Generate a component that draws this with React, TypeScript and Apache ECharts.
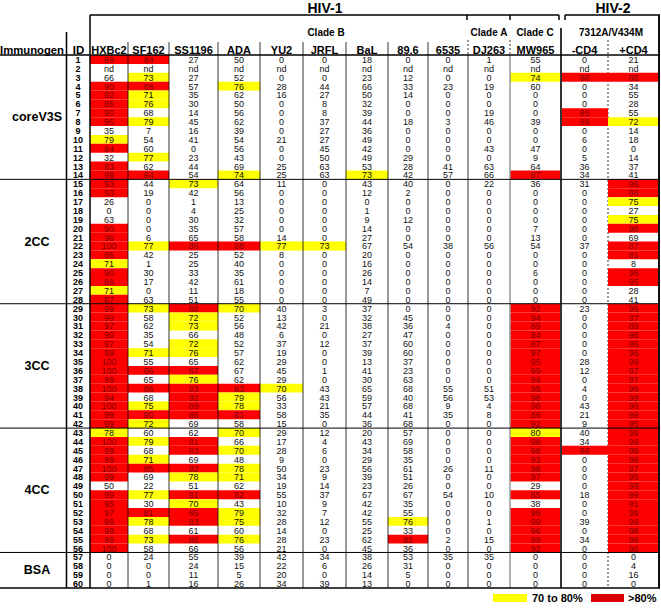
import React, { useEffect, useRef } from "react";
import * as echarts from "echarts";

const columns = ["HXBc2", "SF162", "SS1196", "ADA", "YU2", "JRFL", "BaL", "89.6", "6535", "DJ263", "MW965", "-CD4", "+CD4"];
const groupNames = ["coreV3S", "2CC", "3CC", "4CC", "BSA"];

type V = number | string;
const ND: V[] = ["nd", "nd", "nd", "nd", "nd", "nd", "nd", "nd", "nd", "nd", "nd", "nd", "nd"];

const coreV3S: V[][] = [
  [89, 84, 27, 50, 0, 0, 18, 0, 0, 1, 55, 0, 21],
  ND,
  [66, 73, 27, 52, 0, 0, 23, 12, 0, 0, 74, 98, 88],
  [90, 88, 57, 76, 28, 44, 66, 33, 23, 19, 60, 0, 34],
  [82, 71, 35, 62, 16, 27, 50, 14, 0, 0, 0, 0, 55],
  [85, 76, 30, 50, 0, 8, 32, 0, 0, 0, 0, 0, 28],
  [90, 68, 14, 56, 0, 8, 39, 0, 0, 19, 0, 85, 55],
  [95, 79, 45, 62, 0, 37, 44, 18, 3, 46, 39, 89, 72],
  [35, 7, 16, 39, 0, 27, 36, 0, 0, 0, 0, 0, 14],
  [79, 54, 41, 54, 21, 27, 49, 0, 0, 0, 0, 6, 18],
  [84, 60, 0, 56, 0, 45, 42, 0, 0, 43, 47, 0, 0],
  [32, 77, 23, 43, 0, 50, 49, 29, 0, 0, 9, 5, 14],
  [83, 62, 44, 69, 25, 63, 53, 28, 41, 63, 64, 36, 37],
  [98, 94, 54, 74, 25, 63, 73, 42, 57, 66, 87, 34, 41],
];
const cc2: V[][] = [
  [93, 44, 73, 64, 11, 0, 43, 40, 0, 22, 36, 31, 96],
  [93, 19, 42, 56, 0, 0, 12, 2, 0, 0, 0, 0, 98],
  [26, 0, 1, 13, 0, 0, 0, 0, 0, 0, 0, 0, 75],
  [0, 0, 4, 25, 0, 0, 1, 0, 0, 0, 0, 0, 27],
  [63, 0, 30, 32, 0, 0, 9, 12, 0, 0, 0, 0, 75],
  [90, 0, 35, 57, 0, 0, 14, 0, 0, 0, 7, 0, 98],
  [96, 6, 65, 58, 14, 0, 27, 0, 0, 0, 13, 0, 69],
  [100, 77, 86, 88, 77, 73, 67, 54, 38, 56, 54, 37, 87],
  [86, 42, 25, 52, 8, 0, 20, 0, 0, 0, 0, 0, 81],
  [71, 1, 25, 40, 0, 0, 16, 0, 0, 0, 0, 0, 8],
  [90, 30, 33, 35, 0, 0, 26, 0, 0, 0, 6, 0, 98],
  [89, 17, 42, 61, 0, 0, 14, 0, 0, 0, 0, 0, 95],
  [71, 0, 11, 18, 0, 0, 7, 0, 0, 0, 0, 0, 28],
  [87, 63, 51, 55, 0, 0, 49, 0, 0, 0, 0, 0, 41],
];
const cc3: V[][] = [
  [99, 73, 88, 70, 40, 3, 37, 0, 0, 0, 92, 23, 99],
  [99, 58, 72, 52, 13, 0, 32, 45, 0, 0, 94, 0, 97],
  [97, 62, 73, 56, 42, 21, 38, 36, 4, 0, 89, 0, 89],
  [90, 35, 66, 48, 6, 0, 27, 47, 0, 0, 84, 0, 98],
  [97, 54, 72, 52, 37, 12, 37, 60, 0, 0, 87, 0, 96],
  [99, 71, 76, 57, 19, 0, 39, 60, 0, 0, 97, 0, 96],
  [100, 55, 65, 62, 29, 0, 13, 37, 0, 0, 95, 28, 99],
  [100, 86, 87, 67, 45, 1, 41, 23, 0, 0, 99, 12, 97],
  [99, 65, 76, 62, 29, 0, 30, 63, 0, 0, 94, 0, 97],
  [100, 86, 93, 83, 70, 43, 65, 68, 55, 51, 95, 4, 99],
  [94, 68, 92, 79, 56, 43, 59, 40, 56, 53, 98, 0, 99],
  [100, 75, 89, 78, 33, 21, 57, 68, 9, 4, 98, 43, 99],
  [99, 90, 86, 81, 58, 35, 44, 41, 35, 8, 86, 21, 99],
  [99, 72, 69, 58, 15, 0, 36, 68, 0, 0, 92, 9, 95],
];
const cc4: V[][] = [
  [78, 60, 62, 70, 29, 12, 20, 57, 0, 0, 80, 40, 99],
  [100, 79, 81, 66, 17, 4, 43, 69, 0, 0, 98, 34, 99],
  [99, 68, 83, 70, 28, 6, 34, 58, 0, 0, 98, 86, 99],
  [99, 71, 69, 48, 9, 0, 29, 35, 0, 0, 93, 0, 99],
  [100, 85, 92, 78, 50, 23, 56, 61, 26, 11, 98, 0, 97],
  [99, 69, 78, 71, 34, 9, 39, 51, 0, 0, 97, 0, 99],
  [50, 22, 51, 62, 19, 14, 23, 26, 0, 0, 29, 0, 99],
  [99, 77, 91, 82, 55, 37, 67, 67, 54, 10, 85, 18, 99],
  [95, 30, 70, 43, 10, 9, 42, 35, 0, 0, 38, 0, 91],
  [97, 81, 85, 79, 32, 7, 42, 55, 0, 0, 96, 0, 99],
  [99, 78, 83, 75, 28, 12, 55, 76, 0, 1, 99, 39, 99],
  [98, 68, 61, 60, 14, 0, 25, 33, 0, 0, 96, 0, 98],
  [99, 73, 85, 76, 28, 23, 62, 85, 2, 15, 99, 34, 99],
  [100, 58, 66, 56, 21, 0, 45, 36, 0, 0, 92, 0, 96],
];
const bsa: V[][] = [
  [0, 24, 55, 39, 42, 34, 38, 53, 35, 35, 0, 0, 0],
  [0, 0, 24, 15, 22, 6, 26, 31, 0, 0, 0, 0, 4],
  [0, 0, 11, 5, 20, 0, 14, 5, 0, 0, 0, 0, 16],
  [0, 1, 16, 26, 34, 39, 13, 0, 0, 0, 0, 0, 0],
];
const groupRows = [coreV3S, cc2, cc3, cc4, bsa];
const legendLabels = ["70 to 80%", ">80%"];

// layout (pixels)
const EDGES = [90, 128, 169, 218, 260, 303, 346, 388, 428, 468, 510, 561, 608, 659];
const TOP = 55;
const BOTTOM = 588;
const RED = "#ff0000";
const YELLOW = "#ffff00";
const FONT = '"Liberation Sans", Arial, sans-serif';
const NARROW = '"Liberation Sans Narrow", "Liberation Sans", Arial, sans-serif';

export default function App() {
  const ref = useRef<HTMLDivElement>(null);
  useEffect(() => {
    document.body.style.margin = "0";
    const chart = echarts.init(ref.current!, null, { renderer: "svg" });

    const allRows: V[][] = [];
    const groupStart: number[] = [];
    groupRows.forEach((g) => {
      groupStart.push(allRows.length);
      g.forEach((r) => allRows.push(r));
    });
    const nRows = allRows.length;
    const cells: { c: number; r: number; v: V }[] = [];
    allRows.forEach((row, r) => row.forEach((v, c) => cells.push({ c, r, v })));
    const rowH = (BOTTOM - TOP) / nRows;

    const colorOf = (v: V) => (typeof v === "number" ? (v > 80 ? RED : v >= 70 ? YELLOW : null) : null);

    const g: any[] = [];
    const line = (x1: number, y1: number, x2: number, y2: number, w = 1, color = "#000", dash?: number[], z = 100) =>
      g.push({ type: "line", z, shape: { x1, y1, x2, y2 }, style: { stroke: color, lineWidth: w, lineDash: dash } });
    const text = (t: string, x: number, y: number, font: string, align = "center") =>
      g.push({ type: "text", z: 100, x, y, style: { text: t, font, align, verticalAlign: "middle", fill: "#000" } });

    // header
    text("HIV-1", 325, 7.5, `bold 14px ${FONT}`);
    text("HIV-2", 613, 7.5, `bold 14px ${FONT}`);
    line(90, 15, 559, 15, 1.5);
    line(559, 15, 559, 20, 1.5);
    line(467, 15, 467, 20, 1.5);
    line(510, 15, 510, 20, 1.5);
    line(565, 15, 660, 15, 1.5);
    line(565, 15, 565, 20, 1.5);
    text("Clade B", 326, 32, `bold 10px ${FONT}`);
    text("Clade A", 489, 32, `bold 10px ${FONT}`);
    text("Clade C", 535, 32, `bold 10px ${FONT}`);
    text("7312A/V434M", 611, 32, `bold 10px ${FONT}`);
    text("Immunogen", 0, 50, `bold 11.3px ${FONT}`, "left");
    text("ID", 78.5, 50, `bold 11.5px ${FONT}`);
    columns.forEach((c, i) => text(c, (EDGES[i] + EDGES[i + 1]) / 2, 50, `bold 11px ${FONT}`));

    // vertical lines
    line(66.5, 32, 66.5, BOTTOM, 1.5);
    line(90, 15, 90, BOTTOM, 1.5);
    for (let i = 1; i <= 8; i++) line(EDGES[i], 42, EDGES[i], BOTTOM, 0.8);
    line(EDGES[9], 40, EDGES[9], TOP, 0.8, "#000", [2, 2]);
    line(EDGES[9], TOP, EDGES[9], BOTTOM, 0.8);
    line(EDGES[10], 40, EDGES[10], TOP, 0.8, "#000", [2, 2]);
    line(EDGES[10], TOP, EDGES[10], BOTTOM, 1.5, "#999");
    line(EDGES[11], 28, EDGES[11], BOTTOM, 2, "#333");
    line(EDGES[12], 40, EDGES[12], BOTTOM, 0.8, "#000", [2, 2], 0);
    line(EDGES[13], 15, EDGES[13], BOTTOM, 2, "#111");

    // horizontal lines
    line(0, TOP, 660, TOP, 1.5);
    line(0, BOTTOM, 660, BOTTOM, 1.5);
    groupStart.slice(1).forEach((s) => line(0, TOP + s * rowH, 660, TOP + s * rowH, 1));

    // legend
    g.push({ type: "rect", z: 100, shape: { x: 493, y: 594, width: 34, height: 8 }, style: { fill: YELLOW } });
    text(legendLabels[0], 532, 598, `bold 11px ${FONT}`, "left");
    g.push({ type: "rect", z: 100, shape: { x: 591, y: 594, width: 33, height: 8 }, style: { fill: "#d80000" } });
    text(legendLabels[1], 628, 598, `bold 11px ${FONT}`, "left");

    const option: any = {
      animation: false,
      grid: { left: 0, width: 659, top: TOP, height: BOTTOM - TOP },
      xAxis: { type: "value", min: 0, max: 659, show: false },
      yAxis: { type: "value", min: 0, max: nRows, inverse: true, show: false },
      graphic: { elements: g },
      series: [
        {
          type: "custom",
          z: 2,
          data: cells.map((d) => [d.c, d.r]),
          renderItem: (params: any, api: any) => {
            const d = cells[params.dataIndex];
            const tl = api.coord([EDGES[d.c], d.r]);
            const br = api.coord([EDGES[d.c + 1], d.r + 1]);
            const fill = colorOf(d.v);
            const children: any[] = [];
            if (fill)
              children.push({
                type: "rect",
                shape: { x: tl[0], y: tl[1], width: br[0] - tl[0], height: br[1] - tl[1] },
                style: { fill },
              });
            children.push({
              type: "text",
              x: (tl[0] + br[0]) / 2,
              y: (tl[1] + br[1]) / 2 + 0.5,
              style: {
                text: String(d.v),
                font: `9px ${NARROW}`,
                align: "center",
                verticalAlign: "middle",
                fill: fill === RED ? "#7a0000" : "#111",
              },
            });
            return { type: "group", children };
          },
        },
        {
          type: "custom",
          z: 3,
          data: allRows.map((_, r) => [0, r]),
          renderItem: (params: any, api: any) => {
            const r = params.dataIndex;
            const p = api.coord([78, r + 0.5]);
            return {
              type: "text",
              x: p[0],
              y: p[1] + 0.5,
              style: { text: String(r + 1), font: `bold 9px ${FONT}`, align: "center", verticalAlign: "middle", fill: "#000" },
            };
          },
        },
        {
          type: "custom",
          z: 3,
          data: groupNames.map((_, i) => [0, i]),
          renderItem: (params: any, api: any) => {
            const i = params.dataIndex;
            const mid = groupStart[i] + groupRows[i].length / 2;
            const p = api.coord([37, mid]);
            return {
              type: "text",
              x: p[0],
              y: p[1],
              style: { text: groupNames[i], font: `bold 12.5px ${FONT}`, align: "center", verticalAlign: "middle", fill: "#000" },
            };
          },
        },
      ],
    };
    chart.setOption(option);
    return () => chart.dispose();
  }, []);
  return <div ref={ref} style={{ width: 661, height: 609 }} />;
}
